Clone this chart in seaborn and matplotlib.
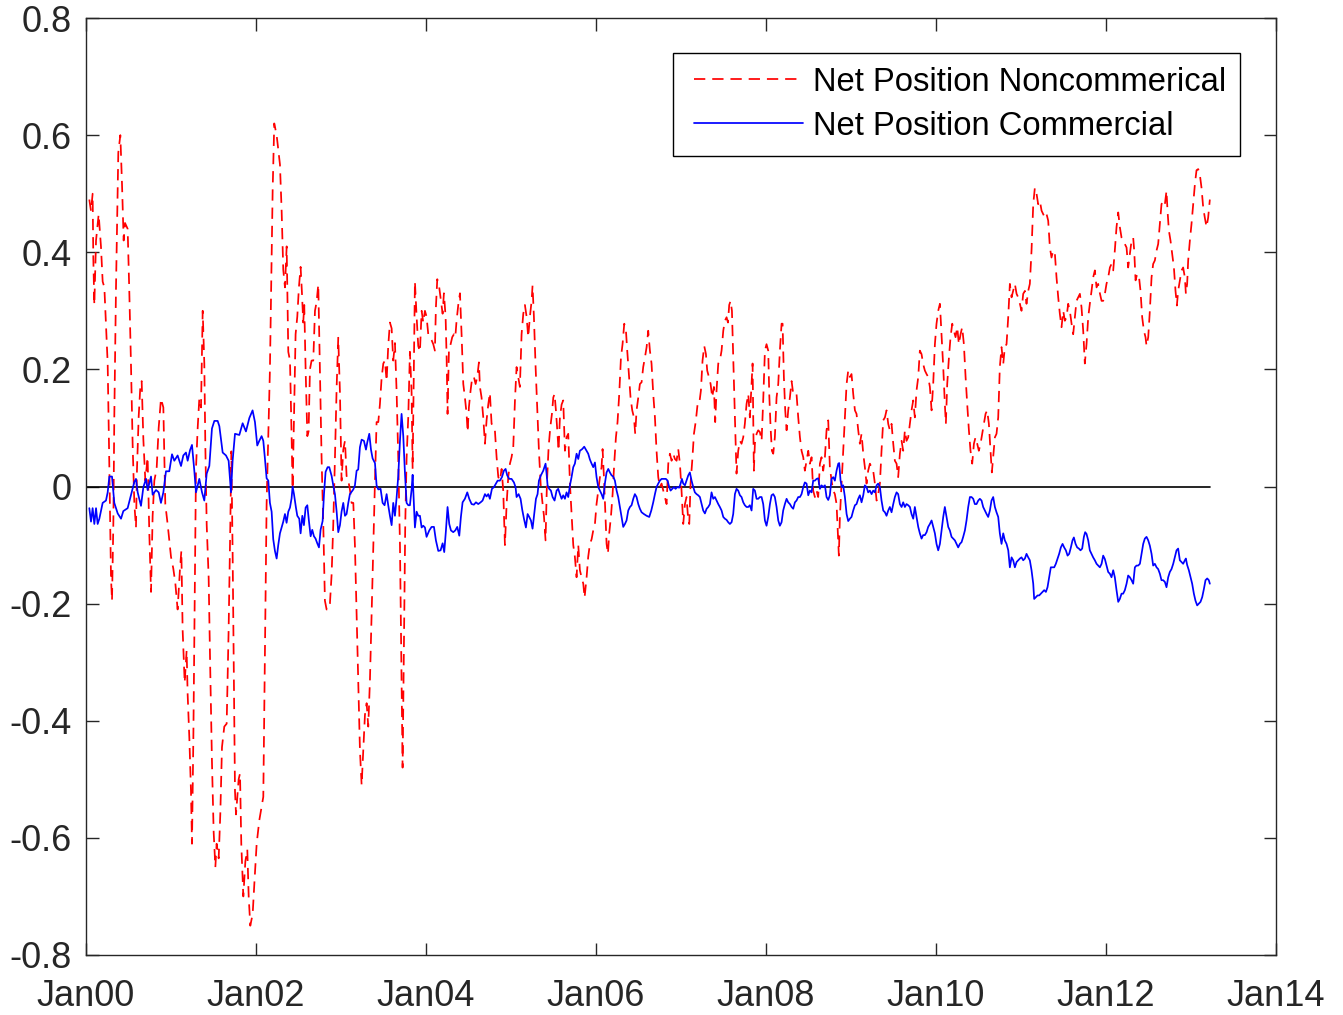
import numpy as np
import pandas as pd
import matplotlib
matplotlib.use("Agg")
import matplotlib.pyplot as plt
import matplotlib.dates as mdates
from matplotlib.ticker import FuncFormatter
from matplotlib.legend_handler import HandlerLine2D
import seaborn as sns

# ---------------- data (decimal years) ----------------
noncomm_years = [
    2000.039, 2000.059, 2000.078, 2000.086, 2000.098, 2000.118, 2000.149, 2000.176, 2000.196, 2000.216,
    2000.255, 2000.275, 2000.294, 2000.306, 2000.322, 2000.333, 2000.353, 2000.380, 2000.404, 2000.424,
    2000.443, 2000.459, 2000.490, 2000.510, 2000.529, 2000.549, 2000.569, 2000.588, 2000.600, 2000.620,
    2000.639, 2000.655, 2000.675, 2000.698, 2000.725, 2000.745, 2000.765, 2000.784, 2000.804, 2000.831,
    2000.855, 2000.882, 2000.910, 2000.933, 2000.961,
    2001.000, 2001.027, 2001.051, 2001.078, 2001.106, 2001.122, 2001.137, 2001.161, 2001.184, 2001.196,
    2001.216, 2001.235, 2001.247, 2001.263, 2001.275, 2001.294, 2001.314, 2001.333, 2001.353, 2001.373,
    2001.392, 2001.404, 2001.420, 2001.443, 2001.459, 2001.482, 2001.502, 2001.522, 2001.537, 2001.561,
    2001.580, 2001.600, 2001.627, 2001.655, 2001.678, 2001.698, 2001.710, 2001.725, 2001.737, 2001.753,
    2001.765, 2001.796, 2001.812, 2001.827, 2001.851, 2001.875, 2001.898, 2001.914, 2001.933, 2001.961,
    2001.980,
    2002.008, 2002.039, 2002.086, 2002.125, 2002.164, 2002.196, 2002.215, 2002.243, 2002.282, 2002.302,
    2002.321, 2002.341, 2002.361, 2002.380, 2002.400, 2002.419, 2002.431, 2002.447, 2002.466, 2002.486,
    2002.505, 2002.525, 2002.541, 2002.556, 2002.568, 2002.584, 2002.604, 2002.619, 2002.635, 2002.654,
    2002.674, 2002.694, 2002.713, 2002.733, 2002.752, 2002.772, 2002.792, 2002.811, 2002.831, 2002.851,
    2002.870, 2002.890, 2002.909, 2002.929, 2002.949, 2002.968, 2002.988,
    2003.007, 2003.027, 2003.047, 2003.066, 2003.086, 2003.105, 2003.125, 2003.145, 2003.164, 2003.184,
    2003.203, 2003.223, 2003.243, 2003.262, 2003.282, 2003.302, 2003.321, 2003.341, 2003.360, 2003.380,
    2003.400, 2003.419, 2003.439, 2003.458, 2003.478, 2003.498, 2003.517, 2003.537, 2003.556, 2003.576,
    2003.596, 2003.615, 2003.635, 2003.655, 2003.674, 2003.694, 2003.713, 2003.725, 2003.741, 2003.756,
    2003.772, 2003.792, 2003.811, 2003.831, 2003.843, 2003.858, 2003.870, 2003.890, 2003.909, 2003.929,
    2003.949, 2003.968, 2003.988,
    2004.007, 2004.027, 2004.047, 2004.066, 2004.086, 2004.105, 2004.117, 2004.133, 2004.156, 2004.176,
    2004.196, 2004.211, 2004.231, 2004.243, 2004.254, 2004.270, 2004.290, 2004.309, 2004.329, 2004.345,
    2004.360, 2004.380, 2004.400, 2004.419, 2004.439, 2004.458, 2004.478, 2004.490, 2004.505, 2004.525,
    2004.545, 2004.564, 2004.584, 2004.603, 2004.623, 2004.635, 2004.654, 2004.674, 2004.694, 2004.713,
    2004.733, 2004.752, 2004.772, 2004.792, 2004.811, 2004.831, 2004.851, 2004.870, 2004.890, 2004.909,
    2004.929, 2004.949, 2004.968, 2004.988,
    2005.007, 2005.027, 2005.047, 2005.066, 2005.086, 2005.105, 2005.125, 2005.145, 2005.164, 2005.184,
    2005.203, 2005.223, 2005.243, 2005.254, 2005.270, 2005.290, 2005.309, 2005.329, 2005.349, 2005.368,
    2005.388, 2005.407, 2005.423, 2005.443, 2005.462, 2005.482, 2005.498, 2005.513, 2005.529, 2005.545,
    2005.560, 2005.576, 2005.596, 2005.615, 2005.635, 2005.654, 2005.674, 2005.694, 2005.713, 2005.733,
    2005.752, 2005.772, 2005.792, 2005.811, 2005.831, 2005.851, 2005.866, 2005.890, 2005.909, 2005.929,
    2005.949, 2005.968, 2005.988,
    2006.007, 2006.027, 2006.047, 2006.066, 2006.078, 2006.094, 2006.113, 2006.125, 2006.141, 2006.156,
    2006.176, 2006.196, 2006.215, 2006.235, 2006.254, 2006.274, 2006.294, 2006.313, 2006.333, 2006.353,
    2006.368, 2006.388, 2006.407, 2006.427, 2006.447, 2006.462, 2006.478, 2006.498, 2006.517, 2006.537,
    2006.556, 2006.576, 2006.596, 2006.615, 2006.635, 2006.654, 2006.674, 2006.694, 2006.713, 2006.733,
    2006.752, 2006.772, 2006.792, 2006.811, 2006.831, 2006.851, 2006.870, 2006.890, 2006.909, 2006.929,
    2006.949, 2006.968, 2006.988,
    2007.007, 2007.027, 2007.047, 2007.066, 2007.086, 2007.098, 2007.113, 2007.133, 2007.153, 2007.176,
    2007.196, 2007.215, 2007.235, 2007.254, 2007.274, 2007.294, 2007.309, 2007.329, 2007.349, 2007.368,
    2007.388, 2007.403, 2007.419, 2007.439, 2007.458, 2007.478, 2007.498, 2007.517, 2007.537, 2007.553,
    2007.568, 2007.584, 2007.600, 2007.615, 2007.635, 2007.654, 2007.674, 2007.694, 2007.713, 2007.733,
    2007.752, 2007.772, 2007.792, 2007.811, 2007.831, 2007.843, 2007.858, 2007.870, 2007.890, 2007.909,
    2007.929, 2007.949, 2007.968, 2007.988,
    2008.007, 2008.027, 2008.039, 2008.055, 2008.070, 2008.086, 2008.105, 2008.125, 2008.145, 2008.164,
    2008.184, 2008.196, 2008.211, 2008.227, 2008.243, 2008.262, 2008.282, 2008.302, 2008.321, 2008.341,
    2008.360, 2008.380, 2008.400, 2008.419, 2008.439, 2008.458, 2008.478, 2008.498, 2008.517, 2008.537,
    2008.556, 2008.576, 2008.596, 2008.615, 2008.635, 2008.654, 2008.674, 2008.694, 2008.713, 2008.733,
    2008.752, 2008.772, 2008.792, 2008.811, 2008.831, 2008.847, 2008.858, 2008.870, 2008.890, 2008.909,
    2008.929, 2008.949, 2008.968, 2008.988,
    2009.007, 2009.027, 2009.047, 2009.066, 2009.086, 2009.105, 2009.125, 2009.145, 2009.164, 2009.184,
    2009.203, 2009.223, 2009.243, 2009.262, 2009.282, 2009.302, 2009.321, 2009.341, 2009.360, 2009.380,
    2009.400, 2009.419, 2009.439, 2009.458, 2009.478, 2009.498, 2009.517, 2009.537, 2009.556, 2009.576,
    2009.596, 2009.615, 2009.635, 2009.654, 2009.674, 2009.694, 2009.713, 2009.733, 2009.752, 2009.772,
    2009.792, 2009.811, 2009.831, 2009.850, 2009.870, 2009.890, 2009.909, 2009.929, 2009.949, 2009.968,
    2009.988,
    2010.007, 2010.027, 2010.047, 2010.066, 2010.086, 2010.105, 2010.117, 2010.133, 2010.153, 2010.172,
    2010.192, 2010.211, 2010.231, 2010.251, 2010.270, 2010.290, 2010.309, 2010.329, 2010.349, 2010.368,
    2010.388, 2010.407, 2010.427, 2010.447, 2010.466, 2010.486, 2010.505, 2010.525, 2010.545, 2010.564,
    2010.584, 2010.603, 2010.623, 2010.643, 2010.658, 2010.674, 2010.694, 2010.713, 2010.733, 2010.752,
    2010.772, 2010.792, 2010.811, 2010.831, 2010.851, 2010.870, 2010.890, 2010.909, 2010.929, 2010.949,
    2010.968, 2010.988,
    2011.007, 2011.027, 2011.047, 2011.066, 2011.086, 2011.105, 2011.125, 2011.145, 2011.164, 2011.184,
    2011.203, 2011.223, 2011.243, 2011.262, 2011.282, 2011.302, 2011.321, 2011.341, 2011.360, 2011.380,
    2011.400, 2011.419, 2011.439, 2011.458, 2011.478, 2011.498, 2011.517, 2011.537, 2011.556, 2011.576,
    2011.596, 2011.615, 2011.635, 2011.654, 2011.674, 2011.694, 2011.713, 2011.733, 2011.752, 2011.772,
    2011.792, 2011.811, 2011.831, 2011.850, 2011.870, 2011.890, 2011.909, 2011.929, 2011.949, 2011.968,
    2011.988,
    2012.007, 2012.027, 2012.047, 2012.066, 2012.086, 2012.105, 2012.125, 2012.145, 2012.164, 2012.184,
    2012.203, 2012.223, 2012.243, 2012.262, 2012.282, 2012.302, 2012.321, 2012.333, 2012.349, 2012.368,
    2012.388, 2012.407, 2012.427, 2012.447, 2012.466, 2012.478, 2012.498, 2012.517, 2012.537, 2012.556,
    2012.576, 2012.596, 2012.615, 2012.635, 2012.654, 2012.674, 2012.694, 2012.713, 2012.725, 2012.741,
    2012.760, 2012.780, 2012.800, 2012.819, 2012.835, 2012.850, 2012.870, 2012.890, 2012.909, 2012.929,
    2012.941, 2012.956, 2012.968, 2012.988,
    2013.007, 2013.027, 2013.047, 2013.066, 2013.086, 2013.105, 2013.125, 2013.145, 2013.164, 2013.184,
    2013.203, 2013.223,
]
noncomm_values = [
    0.49, 0.47, 0.50, 0.39, 0.31, 0.42, 0.465, 0.41, 0.35, 0.34,
    0.21, 0.03, -0.155, -0.195, -0.06, 0.12, 0.34, 0.57, 0.60, 0.515,
    0.42, 0.45, 0.44, 0.33, 0.21, 0.07, -0.03, -0.07, 0.03, 0.12,
    0.17, 0.18, 0.08, 0.01, 0.05, -0.08, -0.18, -0.05, 0.01, 0.03,
    0.10, 0.15, 0.135, -0.03, -0.065,
    -0.12, -0.14, -0.165, -0.21, -0.14, -0.11, -0.245, -0.335, -0.28, -0.355,
    -0.43, -0.52, -0.61, -0.43, -0.245, 0.03, 0.10, 0.15, 0.135, 0.30,
    0.21, 0.07, -0.065, -0.155, -0.29, -0.47, -0.59, -0.65, -0.61, -0.635,
    -0.56, -0.445, -0.41, -0.405, -0.245, -0.065, 0.06, -0.11, -0.29, -0.52,
    -0.56, -0.50, -0.49, -0.61, -0.70, -0.64, -0.62, -0.70, -0.75, -0.73,
    -0.68,
    -0.61, -0.57, -0.53, -0.03, 0.20, 0.505, 0.62, 0.60, 0.55, 0.47,
    0.37, 0.34, 0.41, 0.23, 0.215, 0.086, -0.005, 0.12, 0.26, 0.29,
    0.34, 0.375, 0.33, 0.28, 0.31, 0.20, 0.086, 0.094, 0.20, 0.215,
    0.215, 0.30, 0.315, 0.345, 0.20, 0.048, -0.066, -0.195, -0.21, -0.21,
    -0.20, -0.15, -0.066, 0.048, 0.17, 0.254, 0.16,
    0.01, 0.063, 0.078, 0.018, 0.01, -0.005, -0.028, -0.028, -0.10, -0.22,
    -0.33, -0.45, -0.51, -0.45, -0.39, -0.37, -0.41, -0.33, -0.22, -0.10,
    0.01, 0.11, 0.11, 0.14, 0.185, 0.21, 0.215, 0.18, 0.24, 0.28,
    0.27, 0.215, 0.245, 0.16, 0.048, -0.10, -0.33, -0.48, -0.26, -0.066,
    0.048, 0.12, 0.23, 0.16, 0.03, 0.20, 0.35, 0.29, 0.24, 0.23,
    0.30, 0.28, 0.30,
    0.29, 0.26, 0.255, 0.25, 0.243, 0.232, 0.306, 0.354, 0.34, 0.317,
    0.295, 0.33, 0.29, 0.22, 0.124, 0.232, 0.243, 0.255, 0.26, 0.255,
    0.283, 0.31, 0.33, 0.26, 0.175, 0.152, 0.124, 0.093, 0.135, 0.164,
    0.187, 0.187, 0.175, 0.187, 0.212, 0.17, 0.152, 0.118, 0.073, 0.113,
    0.14, 0.16, 0.107, 0.104, 0.096, 0.05, 0.016, 0.01, 0.03, -0.007,
    -0.10, -0.03, 0.016, 0.039,
    0.05, 0.067, 0.147, 0.204, 0.187, 0.17, 0.26, 0.295, 0.31, 0.29,
    0.255, 0.29, 0.317, 0.343, 0.29, 0.204, 0.135, 0.061, 0.005, -0.024,
    -0.05, -0.092, 0.005, 0.067, 0.10, 0.124, 0.152, 0.158, 0.13, 0.096,
    0.061, 0.118, 0.14, 0.147, 0.061, 0.084, 0.09, 0.005, -0.047, -0.10,
    -0.12, -0.155, -0.10, -0.143, -0.155, -0.166, -0.19, -0.155, -0.12, -0.098,
    -0.09, -0.075, -0.064,
    -0.03, -0.007, 0.016, 0.033, 0.064, 0.016, -0.052, -0.098, -0.115, -0.08,
    -0.052, -0.013, 0.039, 0.084, 0.11, 0.158, 0.22, 0.243, 0.278, 0.266,
    0.232, 0.192, 0.152, 0.13, 0.118, 0.09, 0.13, 0.152, 0.175, 0.178,
    0.204, 0.22, 0.238, 0.266, 0.232, 0.21, 0.158, 0.118, 0.061, 0.016,
    -0.001, 0.005, -0.007, -0.018, -0.03, 0.039, 0.056, 0.044, 0.056, 0.047,
    0.044, 0.064, 0.039,
    -0.007, -0.064, -0.03, -0.018, -0.058, -0.064, 0.005, 0.044, 0.09, 0.113,
    0.141, 0.141, 0.164, 0.215, 0.24, 0.226, 0.198, 0.187, 0.175, 0.152,
    0.17, 0.11, 0.164, 0.21, 0.215, 0.232, 0.266, 0.283, 0.289, 0.28,
    0.31, 0.317, 0.30, 0.22, 0.118, 0.022, 0.061, 0.078, 0.073, 0.084,
    0.107, 0.141, 0.158, 0.118, 0.175, 0.21, 0.027, 0.073, 0.09, 0.096,
    0.093, 0.078, 0.147, 0.232,
    0.243, 0.232, 0.158, 0.10, 0.061, 0.056, 0.084, 0.152, 0.175, 0.232,
    0.278, 0.278, 0.187, 0.13, 0.096, 0.13, 0.152, 0.18, 0.158, 0.16,
    0.158, 0.118, 0.084, 0.061, 0.05, 0.027, 0.044, 0.061, 0.039, 0.05,
    -0.007, -0.018, -0.007, -0.018, 0.039, 0.05, 0.027, 0.05, 0.096, 0.113,
    0.033, 0.01, -0.007, -0.013, -0.03, -0.08, -0.118, -0.052, 0.005, 0.061,
    0.118, 0.175, 0.198, 0.187,
    0.192, 0.158, 0.13, 0.124, 0.096, 0.073, 0.09, 0.056, 0.033, 0.005,
    0.027, 0.039, 0.033, 0.027, 0.005, -0.024, -0.013, 0.005, 0.061, 0.113,
    0.118, 0.13, 0.107, 0.096, 0.107, 0.073, 0.044, 0.039, 0.016, 0.056,
    0.078, 0.061, 0.096, 0.078, 0.084, 0.107, 0.13, 0.147, 0.118, 0.164,
    0.187, 0.232, 0.226, 0.209, 0.198, 0.192, 0.187, 0.170, 0.13, 0.175,
    0.243,
    0.278, 0.30, 0.312, 0.26, 0.204, 0.141, 0.107, 0.175, 0.22, 0.255,
    0.278, 0.266, 0.255, 0.272, 0.243, 0.26, 0.272, 0.243, 0.187, 0.141,
    0.096, 0.061, 0.039, 0.073, 0.084, 0.073, 0.061, 0.073, 0.09, 0.107,
    0.124, 0.13, 0.107, 0.061, 0.024, 0.05, 0.084, 0.09, 0.118, 0.204,
    0.238, 0.209, 0.238, 0.243, 0.29, 0.346, 0.323, 0.334, 0.346, 0.329,
    0.323, 0.312,
    0.30, 0.329, 0.334, 0.312, 0.334, 0.346, 0.403, 0.482, 0.51, 0.50,
    0.482, 0.488, 0.471, 0.465, 0.459, 0.465, 0.454, 0.408, 0.391, 0.403,
    0.397, 0.357, 0.323, 0.295, 0.272, 0.30, 0.283, 0.289, 0.312, 0.30,
    0.278, 0.26, 0.289, 0.317, 0.323, 0.329, 0.306, 0.266, 0.21, 0.243,
    0.289, 0.312, 0.334, 0.357, 0.369, 0.34, 0.346, 0.330, 0.317, 0.317,
    0.329,
    0.346, 0.357, 0.374, 0.38, 0.369, 0.403, 0.443, 0.468, 0.443, 0.425,
    0.42, 0.414, 0.408, 0.374, 0.397, 0.42, 0.425, 0.403, 0.352, 0.363,
    0.36, 0.334, 0.289, 0.266, 0.255, 0.24, 0.255, 0.30, 0.357, 0.38,
    0.386, 0.403, 0.414, 0.448, 0.482, 0.488, 0.482, 0.505, 0.471, 0.437,
    0.42, 0.397, 0.374, 0.334, 0.309, 0.334, 0.352, 0.369, 0.374, 0.357,
    0.329, 0.346, 0.386, 0.420,
    0.448, 0.482, 0.516, 0.54, 0.542, 0.533, 0.51, 0.476, 0.459, 0.443,
    0.459, 0.49,
]

comm_years = [
    2000.039, 2000.059, 2000.078, 2000.098, 2000.118, 2000.137, 2000.157, 2000.196, 2000.235, 2000.255,
    2000.275, 2000.306, 2000.333, 2000.373, 2000.412, 2000.439, 2000.490, 2000.529, 2000.569, 2000.588,
    2000.608, 2000.647, 2000.675, 2000.706, 2000.725, 2000.765, 2000.784, 2000.824, 2000.855, 2000.882,
    2000.910, 2000.941, 2000.980,
    2001.012, 2001.039, 2001.078, 2001.118, 2001.145, 2001.176, 2001.196, 2001.224, 2001.247, 2001.275,
    2001.294, 2001.333, 2001.365, 2001.392, 2001.420, 2001.451, 2001.482, 2001.510, 2001.549, 2001.569,
    2001.608, 2001.647, 2001.678, 2001.706, 2001.725, 2001.753, 2001.804, 2001.843, 2001.882, 2001.922,
    2001.960, 2001.988,
    2002.015, 2002.039, 2002.066, 2002.086, 2002.105, 2002.125, 2002.145, 2002.164, 2002.184, 2002.203,
    2002.223, 2002.243, 2002.262, 2002.282, 2002.302, 2002.321, 2002.341, 2002.360, 2002.380, 2002.400,
    2002.419, 2002.431, 2002.447, 2002.470, 2002.486, 2002.509, 2002.525, 2002.545, 2002.564, 2002.584,
    2002.604, 2002.623, 2002.643, 2002.662, 2002.682, 2002.701, 2002.721, 2002.741, 2002.760, 2002.784,
    2002.800, 2002.819, 2002.843, 2002.862, 2002.890, 2002.909, 2002.929, 2002.949, 2002.968, 2002.988,
    2003.007, 2003.027, 2003.047, 2003.066, 2003.086, 2003.105, 2003.125, 2003.145, 2003.164, 2003.184,
    2003.203, 2003.223, 2003.243, 2003.270, 2003.294, 2003.309, 2003.333, 2003.353, 2003.372, 2003.400,
    2003.419, 2003.439, 2003.466, 2003.490, 2003.513, 2003.537, 2003.556, 2003.576, 2003.596, 2003.615,
    2003.635, 2003.654, 2003.674, 2003.694, 2003.713, 2003.733, 2003.752, 2003.772, 2003.792, 2003.811,
    2003.831, 2003.843, 2003.858, 2003.870, 2003.890, 2003.909, 2003.929, 2003.949, 2003.968, 2003.988,
    2004.007, 2004.039, 2004.066, 2004.094, 2004.117, 2004.145, 2004.172, 2004.196, 2004.215, 2004.235,
    2004.254, 2004.274, 2004.294, 2004.321, 2004.345, 2004.368, 2004.392, 2004.411, 2004.431, 2004.458,
    2004.486, 2004.509, 2004.537, 2004.564, 2004.588, 2004.615, 2004.643, 2004.666, 2004.694, 2004.713,
    2004.733, 2004.752, 2004.776, 2004.800, 2004.823, 2004.843, 2004.870, 2004.894, 2004.917, 2004.937,
    2004.956, 2004.980,
    2005.007, 2005.035, 2005.054, 2005.066, 2005.090, 2005.113, 2005.133, 2005.153, 2005.176, 2005.196,
    2005.215, 2005.235, 2005.254, 2005.274, 2005.294, 2005.313, 2005.329, 2005.352, 2005.380, 2005.407,
    2005.419, 2005.431, 2005.450, 2005.470, 2005.490, 2005.513, 2005.537, 2005.556, 2005.576, 2005.596,
    2005.615, 2005.635, 2005.654, 2005.674, 2005.694, 2005.713, 2005.733, 2005.752, 2005.772, 2005.792,
    2005.811, 2005.839, 2005.862, 2005.890, 2005.909, 2005.929, 2005.949, 2005.968, 2005.988,
    2006.007, 2006.027, 2006.047, 2006.066, 2006.086, 2006.105, 2006.125, 2006.145, 2006.164, 2006.184,
    2006.203, 2006.223, 2006.243, 2006.262, 2006.282, 2006.302, 2006.321, 2006.341, 2006.360, 2006.380,
    2006.400, 2006.419, 2006.439, 2006.458, 2006.478, 2006.498, 2006.517, 2006.537, 2006.564, 2006.596,
    2006.627, 2006.651, 2006.674, 2006.694, 2006.713, 2006.733, 2006.752, 2006.772, 2006.792, 2006.823,
    2006.843, 2006.862, 2006.878, 2006.898, 2006.917, 2006.937, 2006.956, 2006.980, 2006.996,
    2007.011, 2007.027, 2007.047, 2007.066, 2007.086, 2007.105, 2007.125, 2007.145, 2007.164, 2007.184,
    2007.203, 2007.223, 2007.243, 2007.262, 2007.282, 2007.302, 2007.321, 2007.341, 2007.360, 2007.380,
    2007.400, 2007.419, 2007.439, 2007.458, 2007.478, 2007.498, 2007.517, 2007.537, 2007.556, 2007.576,
    2007.596, 2007.615, 2007.635, 2007.654, 2007.674, 2007.694, 2007.713, 2007.733, 2007.752, 2007.772,
    2007.792, 2007.811, 2007.831, 2007.850, 2007.870, 2007.890, 2007.909, 2007.929, 2007.949, 2007.968,
    2007.988,
    2008.007, 2008.027, 2008.047, 2008.066, 2008.086, 2008.105, 2008.125, 2008.145, 2008.164, 2008.184,
    2008.203, 2008.223, 2008.243, 2008.262, 2008.282, 2008.302, 2008.321, 2008.341, 2008.360, 2008.380,
    2008.400, 2008.419, 2008.439, 2008.458, 2008.478, 2008.498, 2008.517, 2008.537, 2008.556, 2008.576,
    2008.596, 2008.615, 2008.635, 2008.654, 2008.674, 2008.694, 2008.713, 2008.733, 2008.752, 2008.772,
    2008.792, 2008.811, 2008.831, 2008.851, 2008.862, 2008.878, 2008.894, 2008.909, 2008.929, 2008.949,
    2008.968, 2008.988,
    2009.007, 2009.027, 2009.047, 2009.066, 2009.086, 2009.105, 2009.125, 2009.145, 2009.164, 2009.184,
    2009.203, 2009.223, 2009.243, 2009.262, 2009.282, 2009.302, 2009.321, 2009.341, 2009.360, 2009.380,
    2009.400, 2009.419, 2009.439, 2009.458, 2009.478, 2009.498, 2009.517, 2009.537, 2009.556, 2009.576,
    2009.596, 2009.615, 2009.635, 2009.654, 2009.674, 2009.694, 2009.713, 2009.733, 2009.752, 2009.772,
    2009.792, 2009.811, 2009.831, 2009.850, 2009.870, 2009.890, 2009.909, 2009.929, 2009.949, 2009.968,
    2009.988,
    2010.007, 2010.027, 2010.047, 2010.066, 2010.086, 2010.105, 2010.125, 2010.145, 2010.164, 2010.184,
    2010.203, 2010.223, 2010.243, 2010.262, 2010.282, 2010.302, 2010.321, 2010.341, 2010.360, 2010.380,
    2010.400, 2010.419, 2010.439, 2010.458, 2010.478, 2010.498, 2010.517, 2010.537, 2010.556, 2010.576,
    2010.596, 2010.615, 2010.635, 2010.654, 2010.674, 2010.694, 2010.713, 2010.733, 2010.752, 2010.772,
    2010.792, 2010.811, 2010.831, 2010.851, 2010.870, 2010.890, 2010.909, 2010.929, 2010.949, 2010.968,
    2010.988,
    2011.007, 2011.027, 2011.047, 2011.066, 2011.086, 2011.105, 2011.125, 2011.145, 2011.156, 2011.176,
    2011.196, 2011.215, 2011.235, 2011.254, 2011.274, 2011.294, 2011.313, 2011.333, 2011.352, 2011.372,
    2011.392, 2011.411, 2011.431, 2011.450, 2011.470, 2011.490, 2011.509, 2011.529, 2011.549, 2011.568,
    2011.588, 2011.607, 2011.623, 2011.643, 2011.662, 2011.682, 2011.701, 2011.721, 2011.741, 2011.756,
    2011.772, 2011.792, 2011.811, 2011.831, 2011.850, 2011.870, 2011.890, 2011.909, 2011.929, 2011.949,
    2011.968, 2011.988,
    2012.007, 2012.027, 2012.047, 2012.066, 2012.086, 2012.105, 2012.125, 2012.145, 2012.164, 2012.184,
    2012.203, 2012.223, 2012.243, 2012.262, 2012.282, 2012.302, 2012.321, 2012.341, 2012.360, 2012.380,
    2012.400, 2012.419, 2012.439, 2012.458, 2012.478, 2012.498, 2012.517, 2012.537, 2012.556, 2012.576,
    2012.596, 2012.615, 2012.635, 2012.654, 2012.674, 2012.694, 2012.713, 2012.733, 2012.752, 2012.772,
    2012.792, 2012.811, 2012.831, 2012.850, 2012.870, 2012.890, 2012.909, 2012.929, 2012.941, 2012.956,
    2012.976, 2012.996,
    2013.015, 2013.035, 2013.054, 2013.074, 2013.094, 2013.113, 2013.133, 2013.153, 2013.172, 2013.192,
    2013.211, 2013.223,
]
comm_values = [
    -0.037, -0.06, -0.037, -0.064, -0.037, -0.064, -0.055, -0.028, -0.024, -0.01,
    0.017, 0.017, -0.028, -0.046, -0.055, -0.042, -0.037, -0.015, 0.008, 0.013,
    -0.01, -0.033, -0.001, 0.013, -0.006, 0.017, -0.014, -0.006, -0.01, -0.028,
    -0.01, 0.026, 0.026,
    0.055, 0.044, 0.053, 0.035, 0.053, 0.058, 0.044, 0.062, 0.071, 0.026,
    -0.01, 0.013, -0.01, -0.024, 0.022, 0.035, 0.099, 0.112, 0.112, 0.103,
    0.058, 0.053, 0.044, -0.01, 0.044, 0.09, 0.088, 0.108, 0.094, 0.117,
    0.13, 0.11,
    0.07, 0.078, 0.086, 0.078, 0.048, 0.014, 0.01, -0.028, -0.043, -0.09,
    -0.11, -0.123, -0.10, -0.08, -0.07, -0.06, -0.047, -0.062, -0.043, -0.036,
    -0.02, 0.0, -0.013, -0.036, -0.05, -0.055, -0.08, -0.05, -0.066, -0.036,
    -0.032, -0.059, -0.085, -0.074, -0.085, -0.089, -0.097, -0.104, -0.074, -0.059,
    -0.013, 0.025, 0.033, 0.033, 0.018, 0.002, -0.013, -0.043, -0.078, -0.066,
    -0.043, -0.028, -0.05, -0.047, -0.028, -0.013, -0.009, -0.005, 0.002, 0.027,
    0.029, 0.067, 0.08, 0.078, 0.063, 0.075, 0.09, 0.063, 0.048, 0.04,
    0.002, -0.005, -0.004, -0.028, -0.032, -0.013, -0.032, -0.05, -0.066, -0.028,
    -0.05, -0.02, 0.018, 0.078, 0.124, 0.086, 0.025, -0.028, -0.032, -0.032,
    -0.005, 0.02, -0.028, -0.07, -0.043, -0.05, -0.05, -0.07, -0.067, -0.07,
    -0.086, -0.075, -0.069, -0.069, -0.092, -0.11, -0.109, -0.097, -0.112, -0.075,
    -0.035, -0.064, -0.075, -0.078, -0.075, -0.069, -0.084, -0.052, -0.027, -0.021,
    -0.01, -0.021, -0.03, -0.031, -0.027, -0.03, -0.027, -0.024, -0.013, -0.017,
    -0.013, -0.021, -0.004, -0.001, 0.005, 0.01, 0.01, 0.016, 0.027, 0.03,
    0.019, 0.013,
    0.013, 0.007, -0.001, -0.018, -0.013, -0.021, -0.04, -0.055, -0.07, -0.047,
    -0.052, -0.058, -0.072, -0.047, -0.021, -0.013, 0.01, 0.019, 0.027, 0.039,
    0.022, 0.002, -0.004, -0.007, -0.018, -0.024, -0.007, -0.004, -0.013, -0.021,
    -0.015, -0.021, -0.01, -0.018, 0.002, 0.016, 0.033, 0.039, 0.056, 0.047,
    0.061, 0.064, 0.068, 0.061, 0.056, 0.046, 0.039, 0.033, 0.041,
    0.016, -0.001, -0.007, -0.013, -0.021, 0.005, 0.024, 0.03, 0.024, 0.019,
    0.017, 0.01, -0.007, -0.018, -0.035, -0.052, -0.069, -0.064, -0.058, -0.041,
    -0.035, -0.032, -0.021, -0.013, -0.018, -0.030, -0.038, -0.044, -0.047, -0.05,
    -0.052, -0.041, -0.027, -0.013, -0.001, 0.005, 0.010, 0.013, 0.013, 0.013,
    0.010, -0.001, -0.007, -0.004, -0.001, -0.004, -0.001, -0.002, 0.005,
    0.013, 0.005, 0.002, 0.010, 0.019, 0.024, 0.010, -0.001, -0.010, -0.013,
    -0.015, -0.018, -0.030, -0.041, -0.046, -0.038, -0.035, -0.030, -0.010, -0.021,
    -0.018, -0.024, -0.030, -0.035, -0.041, -0.052, -0.055, -0.057, -0.061, -0.064,
    -0.061, -0.047, -0.013, -0.004, -0.007, -0.015, -0.018, -0.027, -0.032, -0.035,
    -0.035, -0.032, -0.041, -0.004, -0.007, -0.021, -0.021, -0.018, -0.018, -0.030,
    -0.058,
    -0.067, -0.052, -0.030, -0.015, -0.013, -0.018, -0.035, -0.058, -0.067, -0.061,
    -0.041, -0.030, -0.021, -0.027, -0.030, -0.035, -0.038, -0.027, -0.024, -0.018,
    -0.018, -0.013, -0.001, 0.007, 0.005, -0.015, -0.007, -0.010, 0.010, 0.010,
    0.013, 0.014, -0.004, 0.002, -0.001, 0.002, -0.018, -0.023, -0.015, 0.013,
    0.016, 0.010, 0.027, 0.039, 0.040, 0.010, -0.001, 0.002, -0.018, -0.047,
    -0.059, -0.055,
    -0.052, -0.041, -0.032, -0.030, -0.021, -0.015, -0.027, -0.015, 0.002, -0.001,
    -0.010, -0.007, -0.013, -0.007, -0.010, 0.002, 0.005, -0.001, -0.024, -0.041,
    -0.044, -0.050, -0.041, -0.035, -0.044, -0.030, -0.018, -0.010, -0.013, -0.030,
    -0.035, -0.027, -0.035, -0.030, -0.032, -0.035, -0.047, -0.055, -0.035, -0.052,
    -0.069, -0.080, -0.089, -0.083, -0.083, -0.078, -0.069, -0.064, -0.058, -0.069,
    -0.080,
    -0.098, -0.109, -0.098, -0.075, -0.052, -0.035, -0.052, -0.069, -0.075, -0.086,
    -0.089, -0.092, -0.098, -0.104, -0.098, -0.095, -0.086, -0.075, -0.058, -0.035,
    -0.018, -0.018, -0.021, -0.030, -0.030, -0.024, -0.021, -0.024, -0.035, -0.041,
    -0.047, -0.052, -0.041, -0.024, -0.018, -0.035, -0.044, -0.052, -0.080, -0.098,
    -0.080, -0.092, -0.098, -0.109, -0.138, -0.121, -0.126, -0.138, -0.129, -0.126,
    -0.123,
    -0.121, -0.126, -0.123, -0.115, -0.121, -0.126, -0.143, -0.166, -0.192, -0.189,
    -0.186, -0.186, -0.183, -0.180, -0.177, -0.180, -0.172, -0.155, -0.138, -0.138,
    -0.138, -0.132, -0.123, -0.115, -0.104, -0.098, -0.104, -0.109, -0.118, -0.115,
    -0.104, -0.092, -0.087, -0.098, -0.104, -0.106, -0.109, -0.106, -0.086, -0.078,
    -0.081, -0.092, -0.109, -0.115, -0.121, -0.126, -0.132, -0.135, -0.138, -0.132,
    -0.118, -0.124,
    -0.135, -0.146, -0.149, -0.155, -0.143, -0.155, -0.177, -0.197, -0.192, -0.183,
    -0.183, -0.177, -0.166, -0.152, -0.155, -0.160, -0.166, -0.138, -0.135, -0.135,
    -0.132, -0.115, -0.098, -0.089, -0.086, -0.092, -0.101, -0.115, -0.135, -0.132,
    -0.138, -0.141, -0.149, -0.160, -0.160, -0.163, -0.172, -0.155, -0.146, -0.141,
    -0.132, -0.121, -0.109, -0.106, -0.126, -0.129, -0.132, -0.126, -0.123, -0.134,
    -0.143, -0.155,
    -0.166, -0.183, -0.195, -0.203, -0.200, -0.197, -0.189, -0.175, -0.160, -0.157,
    -0.160, -0.166,
]

series_labels = ["Net Position Noncommerical", "Net Position Commercial"]
x_tick_years = [2000, 2002, 2004, 2006, 2008, 2010, 2012, 2014]
y_ticks = [-0.8, -0.6, -0.4, -0.2, 0.0, 0.2, 0.4, 0.6, 0.8]


def to_dates(years):
    years = np.asarray(years, dtype=float)
    return pd.Timestamp("2000-01-01") + pd.to_timedelta((years - 2000.0) * 365.25, unit="D")


df_nc = pd.DataFrame({"date": to_dates(noncomm_years), "value": noncomm_values})
df_c = pd.DataFrame({"date": to_dates(comm_years), "value": comm_values})


class ShiftedLineHandler(HandlerLine2D):
    """Legend line sample drawn with a little extra space on its left (MATLAB look)."""

    def __init__(self, shift=4.5, **kw):
        super().__init__(**kw)
        self.shift = shift

    def create_artists(self, legend, orig_handle, xdescent, ydescent, width, height, fontsize, trans):
        return super().create_artists(legend, orig_handle, xdescent - self.shift, ydescent,
                                      width - self.shift, height, fontsize, trans)


# ---------------- style ----------------
sns.set_theme(style="white")
plt.rcParams["font.family"] = ["Liberation Sans", "DejaVu Sans"]
plt.rcParams["axes.unicode_minus"] = False

W, H = 1343, 1015
fig = plt.figure(figsize=(W / 100, H / 100), dpi=100)
ax = fig.add_axes([86 / W, 1 - 955 / H, (1276 - 86) / W, (955 - 18) / H])

dark = "#262626"

sns.lineplot(data=df_nc, x="date", y="value", ax=ax, color=(1, 0, 0), linewidth=1.25,
             linestyle=(0, (6.5, 4)), label=series_labels[0], errorbar=None, sort=False)
sns.lineplot(data=df_c, x="date", y="value", ax=ax, color=(0, 0, 1), linewidth=1.25,
             label=series_labels[1], errorbar=None, sort=False)

# zero reference line across the data span
zero_span = to_dates([2000.0, noncomm_years[-1]])
ax.plot(zero_span, [0, 0], color="black", linewidth=1.2, zorder=1)

# ---------------- axes ----------------
ax.set_xlim(pd.Timestamp(f"{x_tick_years[0]}-01-01"), pd.Timestamp(f"{x_tick_years[-1]}-01-01"))
ax.set_ylim(y_ticks[0], y_ticks[-1])
ax.set_xticks([pd.Timestamp(f"{y}-01-01") for y in x_tick_years])
ax.xaxis.set_major_formatter(mdates.DateFormatter("Jan%y"))
ax.set_yticks(y_ticks)
ax.yaxis.set_major_formatter(FuncFormatter(lambda v, p: f"{v:g}" if abs(v) > 1e-9 else "0"))
ax.set_xlabel("")
ax.set_ylabel("")

for s in ax.spines.values():
    s.set_visible(True)
    s.set_color(dark)
    s.set_linewidth(1.0)

ax.tick_params(axis="both", which="major", direction="in", length=9, width=1.0,
               color=dark, labelcolor=dark, labelsize=26,
               bottom=True, top=True, left=True, right=True)
ax.tick_params(axis="x", pad=17.5)
ax.tick_params(axis="y", pad=10)
ax.grid(False)

handles, labels = ax.get_legend_handles_labels()
handler = ShiftedLineHandler(shift=5.5)
leg = ax.legend(handles, labels, loc="upper right",
                bbox_to_anchor=((1240 - 86) / 1190, (955 - 53) / 937),
                fontsize=23.6, frameon=True, fancybox=False, shadow=False,
                edgecolor="black", framealpha=1.0, borderaxespad=0.0,
                handlelength=3.55, handletextpad=0.3, borderpad=0.42, labelspacing=0.4,
                handler_map={h: handler for h in handles})
leg.get_frame().set_linewidth(1.0)
for t in leg.get_texts():
    t.set_color("black")

fig.savefig("out.png", dpi=100)
